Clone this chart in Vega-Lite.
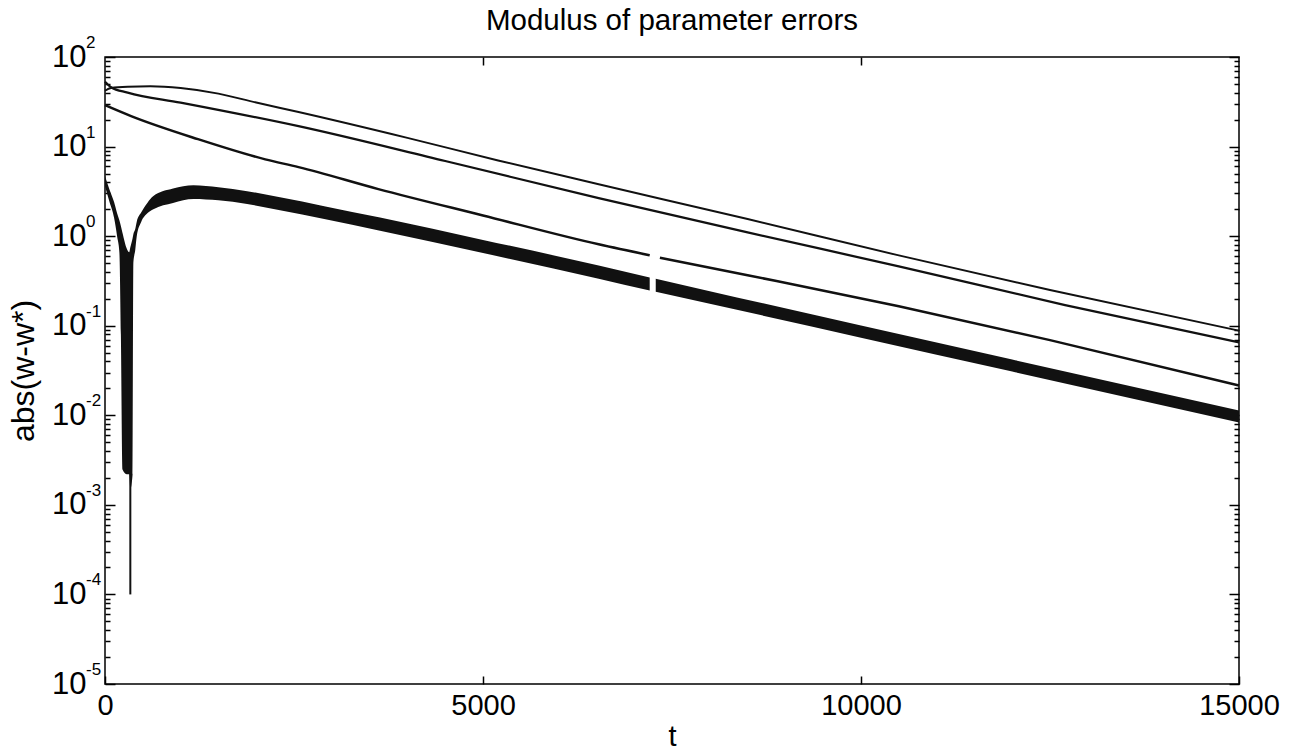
{
  "$schema": "https://vega.github.io/schema/vega-lite/v6.json",
  "autosize": {"type": "none"},
  "padding": {"left": 105, "top": 57, "right": 70, "bottom": 68},
  "width": 1134,
  "height": 627,
  "background": "white",
  "title": {
    "text": "Modulus of parameter errors",
    "font": "Liberation Sans",
    "fontSize": 29.5,
    "fontWeight": "normal",
    "color": "black",
    "baseline": "alphabetic",
    "offset": -25
  },
  "config": {
    "view": {"stroke": "black", "strokeWidth": 1.5},
    "axis": {
      "domain": false,
      "grid": false,
      "tickColor": "black",
      "tickWidth": 1.5,
      "labelColor": "black",
      "labelFont": "Liberation Sans",
      "labelFontSize": 29,
      "labelOverlap": false,
      "labelFlush": false,
      "titleColor": "black",
      "titleFont": "Liberation Sans",
      "titleFontSize": 29,
      "titleFontWeight": "normal"
    }
  },
  "datasets": {
    "band": [
      {"t": 0, "hi": 4.7, "lo": 3.6, "seg": "early"},
      {"t": 60, "hi": 3.3, "lo": 2.4, "seg": "early"},
      {"t": 120, "hi": 2.4, "lo": 1.6, "seg": "early"},
      {"t": 160, "hi": 1.8, "lo": 1.0, "seg": "early"},
      {"t": 190, "hi": 1.5, "lo": 0.66, "seg": "early"},
      {"t": 210, "hi": 1.3, "lo": 0.08, "seg": "early"},
      {"t": 230, "hi": 1.1, "lo": 0.0025, "seg": "early"},
      {"t": 290, "hi": 0.72, "lo": 0.0022, "seg": "early"},
      {"t": 320, "hi": 0.66, "lo": 0.0022, "seg": "early"},
      {"t": 335, "hi": 0.75, "lo": 0.0015, "seg": "early"},
      {"t": 365, "hi": 0.95, "lo": 0.0022, "seg": "early"},
      {"t": 375, "hi": 1.05, "lo": 0.5, "seg": "early"},
      {"t": 400, "hi": 1.2, "lo": 0.7, "seg": "early"},
      {"t": 420, "hi": 1.45, "lo": 1.0, "seg": "early"},
      {"t": 480, "hi": 1.85, "lo": 1.45, "seg": "early"},
      {"t": 560, "hi": 2.35, "lo": 1.8, "seg": "early"},
      {"t": 640, "hi": 2.8, "lo": 2.0, "seg": "early"},
      {"t": 900, "hi": 3.4, "lo": 2.35, "seg": "early"},
      {"t": 1170, "hi": 3.7, "lo": 2.6, "seg": "early"},
      {"t": 1500, "hi": 3.51, "lo": 2.51, "seg": "early"},
      {"t": 1880, "hi": 3.18, "lo": 2.28, "seg": "early"},
      {"t": 2315, "hi": 2.71, "lo": 1.94, "seg": "early"},
      {"t": 2900, "hi": 2.16, "lo": 1.55, "seg": "early"},
      {"t": 3638, "hi": 1.61, "lo": 1.15, "seg": "early"},
      {"t": 5000, "hi": 0.908, "lo": 0.649, "seg": "early"},
      {"t": 6530, "hi": 0.47, "lo": 0.335, "seg": "early"},
      {"t": 7205, "hi": 0.346, "lo": 0.247, "seg": "early"},
      {"t": 7285, "hi": 0.335, "lo": 0.24, "seg": "late"},
      {"t": 8000, "hi": 0.243, "lo": 0.176, "seg": "late"},
      {"t": 10000, "hi": 0.1007, "lo": 0.0736, "seg": "late"},
      {"t": 12000, "hi": 0.0419, "lo": 0.0308, "seg": "late"},
      {"t": 15000, "hi": 0.0113, "lo": 0.0083, "seg": "late"}
    ],
    "curves": [
      {"t": 0, "err": 42, "series": "w1", "part": "w1"},
      {"t": 80, "err": 45, "series": "w1", "part": "w1"},
      {"t": 300, "err": 46.5, "series": "w1", "part": "w1"},
      {"t": 600, "err": 47, "series": "w1", "part": "w1"},
      {"t": 1000, "err": 45, "series": "w1", "part": "w1"},
      {"t": 1500, "err": 39, "series": "w1", "part": "w1"},
      {"t": 2000, "err": 31, "series": "w1", "part": "w1"},
      {"t": 2560, "err": 24.3, "series": "w1", "part": "w1"},
      {"t": 4000, "err": 12.5, "series": "w1", "part": "w1"},
      {"t": 5200, "err": 7.0, "series": "w1", "part": "w1"},
      {"t": 6530, "err": 3.8, "series": "w1", "part": "w1"},
      {"t": 8500, "err": 1.55, "series": "w1", "part": "w1"},
      {"t": 10500, "err": 0.61, "series": "w1", "part": "w1"},
      {"t": 12500, "err": 0.25, "series": "w1", "part": "w1"},
      {"t": 15000, "err": 0.088, "series": "w1", "part": "w1"},

      {"t": 0, "err": 53, "series": "w2", "part": "w2"},
      {"t": 80, "err": 46, "series": "w2", "part": "w2"},
      {"t": 300, "err": 40, "series": "w2", "part": "w2"},
      {"t": 1000, "err": 31, "series": "w2", "part": "w2"},
      {"t": 2560, "err": 16.9, "series": "w2", "part": "w2"},
      {"t": 4500, "err": 6.9, "series": "w2", "part": "w2"},
      {"t": 6530, "err": 2.66, "series": "w2", "part": "w2"},
      {"t": 8500, "err": 1.1, "series": "w2", "part": "w2"},
      {"t": 10500, "err": 0.46, "series": "w2", "part": "w2"},
      {"t": 12700, "err": 0.17, "series": "w2", "part": "w2"},
      {"t": 15000, "err": 0.065, "series": "w2", "part": "w2"},

      {"t": 0, "err": 29, "series": "w3", "part": "w3a"},
      {"t": 345, "err": 21.9, "series": "w3", "part": "w3a"},
      {"t": 1230, "err": 12.1, "series": "w3", "part": "w3a"},
      {"t": 2120, "err": 7.2, "series": "w3", "part": "w3a"},
      {"t": 2560, "err": 5.9, "series": "w3", "part": "w3a"},
      {"t": 3616, "err": 3.35, "series": "w3", "part": "w3a"},
      {"t": 5000, "err": 1.7, "series": "w3", "part": "w3a"},
      {"t": 6530, "err": 0.81, "series": "w3", "part": "w3a"},
      {"t": 7205, "err": 0.61, "series": "w3", "part": "w3a"},
      {"t": 7340, "err": 0.575, "series": "w3", "part": "w3b"},
      {"t": 8500, "err": 0.366, "series": "w3", "part": "w3b"},
      {"t": 10500, "err": 0.165, "series": "w3", "part": "w3b"},
      {"t": 12500, "err": 0.069, "series": "w3", "part": "w3b"},
      {"t": 15000, "err": 0.0215, "series": "w3", "part": "w3b"}
    ],
    "spike": [
      {"t": 335, "top": 0.0022, "bottom": 0.0001}
    ],
    "exponents": [
      {"v": 100, "e": "2"},
      {"v": 10, "e": "1"},
      {"v": 1, "e": "0"},
      {"v": 0.1, "e": "-1"},
      {"v": 0.01, "e": "-2"},
      {"v": 0.001, "e": "-3"},
      {"v": 0.0001, "e": "-4"},
      {"v": 0.00001, "e": "-5"}
    ]
  },
  "layer": [
    {
      "data": {"name": "band"},
      "mark": {"type": "area", "color": "#111111", "interpolate": "monotone"},
      "encoding": {
        "x": {
          "field": "t",
          "type": "quantitative",
          "scale": {"domain": [0, 15000], "nice": false, "zero": false},
          "axis": {
            "orient": "bottom",
            "values": [0, 5000, 10000, 15000],
            "format": "d",
            "tickSize": -8,
            "labelPadding": 15,
            "title": "t",
            "titlePadding": 2
          }
        },
        "y": {
          "field": "hi",
          "type": "quantitative",
          "scale": {"type": "log", "domain": [0.00001, 100], "nice": false},
          "axis": {
            "orient": "left",
            "values": [1e-5, 2e-5, 3e-5, 4e-5, 5e-5, 6e-5, 7e-5, 8e-5, 9e-5,
                       1e-4, 2e-4, 3e-4, 4e-4, 5e-4, 6e-4, 7e-4, 8e-4, 9e-4,
                       1e-3, 2e-3, 3e-3, 4e-3, 5e-3, 6e-3, 7e-3, 8e-3, 9e-3,
                       0.01, 0.02, 0.03, 0.04, 0.05, 0.06, 0.07, 0.08, 0.09,
                       0.1, 0.2, 0.3, 0.4, 0.5, 0.6, 0.7, 0.8, 0.9,
                       1, 2, 3, 4, 5, 6, 7, 8, 9,
                       10, 20, 30, 40, 50, 60, 70, 80, 90, 100],
            "labelExpr": "abs(log(datum.value)/LN10 - round(log(datum.value)/LN10)) < 1e-6 ? '10' : ''",
            "labelFontSize": 31,
            "tickSize": {
              "condition": {"test": "abs(log(datum.value)/LN10 - round(log(datum.value)/LN10)) < 1e-6", "value": -10},
              "value": -5
            },
            "labelPadding": 29,
            "title": "abs(w-w*)",
            "titleFontSize": 32,
            "titlePadding": 11
          }
        },
        "y2": {"field": "lo"},
        "detail": {"field": "seg"}
      }
    },
    {
      "data": {"name": "curves"},
      "mark": {"type": "line", "color": "#111111", "interpolate": "monotone"},
      "encoding": {
        "x": {
          "field": "t",
          "type": "quantitative",
          "scale": {"domain": [0, 15000], "nice": false, "zero": false},
          "axis": {
            "orient": "top",
            "values": [5000, 10000],
            "labels": false,
            "tickSize": -8,
            "title": null
          }
        },
        "y": {
          "field": "err",
          "type": "quantitative",
          "scale": {"type": "log", "domain": [0.00001, 100], "nice": false},
          "axis": {
            "orient": "right",
            "values": [1e-5, 2e-5, 3e-5, 4e-5, 5e-5, 6e-5, 7e-5, 8e-5, 9e-5,
                       1e-4, 2e-4, 3e-4, 4e-4, 5e-4, 6e-4, 7e-4, 8e-4, 9e-4,
                       1e-3, 2e-3, 3e-3, 4e-3, 5e-3, 6e-3, 7e-3, 8e-3, 9e-3,
                       0.01, 0.02, 0.03, 0.04, 0.05, 0.06, 0.07, 0.08, 0.09,
                       0.1, 0.2, 0.3, 0.4, 0.5, 0.6, 0.7, 0.8, 0.9,
                       1, 2, 3, 4, 5, 6, 7, 8, 9,
                       10, 20, 30, 40, 50, 60, 70, 80, 90, 100],
            "labels": false,
            "tickSize": {
              "condition": {"test": "abs(log(datum.value)/LN10 - round(log(datum.value)/LN10)) < 1e-6", "value": -10},
              "value": -5
            },
            "title": null
          }
        },
        "detail": {"field": "part"},
        "strokeWidth": {
          "field": "series",
          "type": "nominal",
          "scale": {"domain": ["w1", "w2", "w3"], "range": [2, 2.5, 4]},
          "legend": null
        }
      }
    },
    {
      "data": {"name": "spike"},
      "mark": {"type": "rule", "color": "#111111", "strokeWidth": 2},
      "encoding": {
        "x": {"field": "t", "type": "quantitative", "scale": {"domain": [0, 15000], "nice": false, "zero": false}, "axis": null},
        "y": {"field": "top", "type": "quantitative", "scale": {"type": "log", "domain": [0.00001, 100], "nice": false}, "axis": null},
        "y2": {"field": "bottom"}
      }
    },
    {
      "data": {"name": "exponents"},
      "mark": {
        "type": "text",
        "font": "Liberation Sans",
        "fontSize": 17,
        "color": "black",
        "align": "left",
        "baseline": "alphabetic",
        "dx": -19,
        "dy": -9
      },
      "encoding": {
        "x": {"datum": 0, "type": "quantitative", "scale": {"domain": [0, 15000], "nice": false, "zero": false}, "axis": null},
        "y": {"field": "v", "type": "quantitative", "scale": {"type": "log", "domain": [0.00001, 100], "nice": false}, "axis": null},
        "text": {"field": "e"}
      }
    }
  ],
  "resolve": {"axis": {"x": "independent", "y": "independent"}}
}
